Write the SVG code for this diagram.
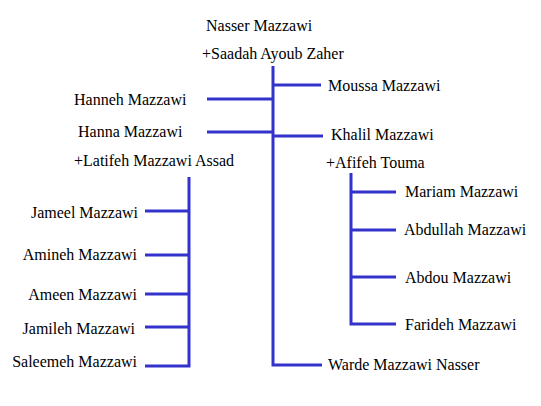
<svg xmlns="http://www.w3.org/2000/svg" width="541" height="406" viewBox="0 0 541 406">
<style>
text{font-family:"Liberation Serif","Times New Roman",serif;font-size:16px;fill:#000}
.e{text-anchor:end}
.c{fill:none;stroke:#3333cc;stroke-width:3}
</style>
<rect width="541" height="406" fill="#fff"/>
<g id="connectors">
<path class="c" d="M273,66V365H322"/>
<path class="c" d="M273,85H321"/>
<path class="c" d="M207,99H273"/>
<path class="c" d="M207,132H273"/>
<path class="c" d="M273,136H323"/>
<path class="c" d="M189,177V366H145"/>
<path class="c" d="M145,211H189"/>
<path class="c" d="M145,255H189"/>
<path class="c" d="M145,294H189"/>
<path class="c" d="M145,327H189"/>
<path class="c" d="M351,173V324H396"/>
<path class="c" d="M351,192H396"/>
<path class="c" d="M351,230H396"/>
<path class="c" d="M351,277H396"/>
</g>
<g id="nasser"><text x="206" y="31">Nasser Mazzawi</text><text x="202" y="59">+Saadah Ayoub Zaher</text></g>
<g id="moussa"><text x="328" y="91">Moussa Mazzawi</text></g>
<g id="hanneh"><text x="74" y="105">Hanneh Mazzawi</text></g>
<g id="hanna"><text x="78" y="137">Hanna Mazzawi</text><text x="74" y="166">+Latifeh Mazzawi Assad</text></g>
<g id="khalil"><text x="331" y="140">Khalil Mazzawi</text><text x="326" y="168">+Afifeh Touma</text></g>
<g id="jameel"><text class="e" x="138" y="218">Jameel Mazzawi</text></g>
<g id="amineh"><text class="e" x="137" y="260">Amineh Mazzawi</text></g>
<g id="ameen"><text class="e" x="137" y="300">Ameen Mazzawi</text></g>
<g id="jamileh"><text class="e" x="135" y="334">Jamileh Mazzawi</text></g>
<g id="saleemeh"><text class="e" x="137" y="367">Saleemeh Mazzawi</text></g>
<g id="mariam"><text x="405" y="197">Mariam Mazzawi</text></g>
<g id="abdullah"><text x="404" y="235">Abdullah Mazzawi</text></g>
<g id="abdou"><text x="405" y="283">Abdou Mazzawi</text></g>
<g id="farideh"><text x="405" y="330">Farideh Mazzawi</text></g>
<g id="warde"><text x="328" y="370">Warde Mazzawi Nasser</text></g>
</svg>
